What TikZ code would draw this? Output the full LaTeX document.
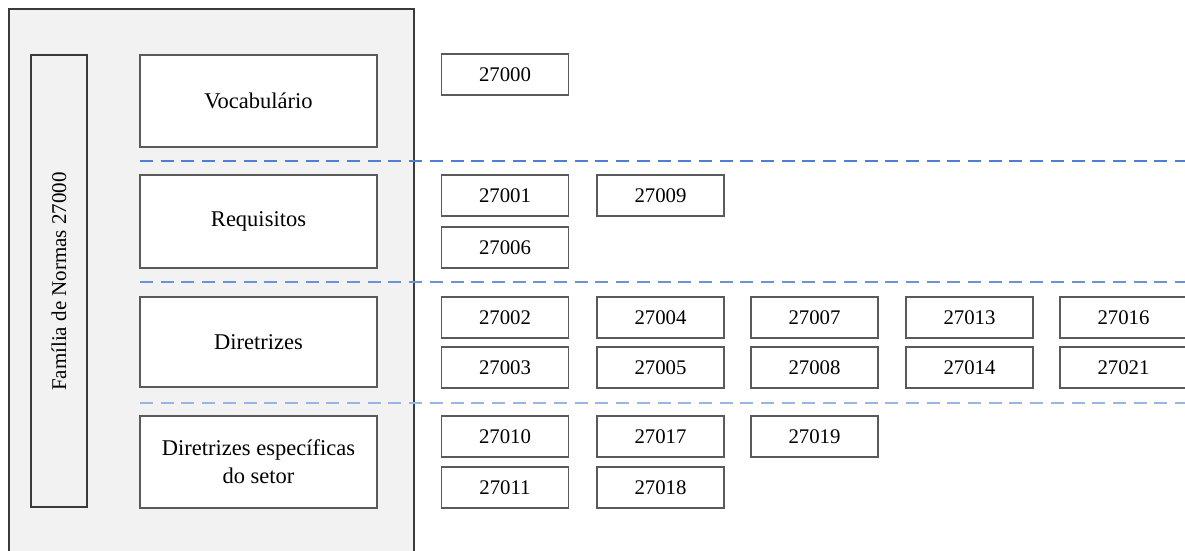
\documentclass[tikz,border=0pt]{standalone}
\usepackage{fontspec}
\setmainfont{Liberation Serif}
\definecolor{panelfill}{HTML}{F2F2F2}
\definecolor{panelline}{HTML}{3A3A3A}
\definecolor{boxline}{HTML}{5A5A5A}
\definecolor{dashA}{HTML}{4F7FD4}
\definecolor{dashB}{HTML}{6B93DA}
\definecolor{dashC}{HTML}{9AB5E3}
\tikzset{
  catbox/.style={draw=boxline, line width=1.3pt, fill=white, minimum width=237pt, inner sep=0pt, align=center, font=\fontsize{22.5}{28}\selectfont},
  normbox/.style={draw=boxline, line width=1.3pt, fill=white, minimum width=127pt, minimum height=41pt, inner sep=0pt, font=\fontsize{20.8}{24}\selectfont},
  sepline/.style={line width=2pt, dash pattern=on 13pt off 7.7pt}
}
\begin{document}
\begin{tikzpicture}[x=1pt,y=-1pt]
\useasboundingbox (0,0) rectangle (1185,551);
% outer panel
\draw[panelline, line width=1.3pt, fill=panelfill] (9,9) rectangle (414,552);
% vertical label box
\node[draw=panelline, line width=1.3pt, fill=panelfill, minimum width=56pt, minimum height=452pt, inner sep=0pt] (familia) at (59,281) {};
\node[rotate=90, font=\fontsize{21}{24}\selectfont] (familiatext) at (59,281.5) {Família de Normas 27000};
% category boxes
\node[catbox, minimum height=92pt] (voc) at (258.5,101) {Vocabulário};
\node[catbox, minimum height=93pt] (req) at (258.5,221.5) {Requisitos};
\node[catbox, minimum height=90pt] (dir) at (258.5,342) {Diretrizes};
\node[catbox, minimum height=92pt] (esp) at (258.5,462) {Diretrizes específicas\\do setor};
% separators
\coordinate (s1a) at (140,161); \coordinate (s1b) at (1190,161);
\coordinate (s2a) at (140,282); \coordinate (s2b) at (1190,282);
\coordinate (s3a) at (140,403); \coordinate (s3b) at (1190,403);
\draw[sepline, dashA] (s1a) -- (s1b);
\draw[sepline, dashB] (s2a) -- (s2b);
\draw[sepline, dashC] (s3a) -- (s3b);
% standards
\node[normbox] (n27000) at (505,74.5) {27000};
\node[normbox] (n27001) at (505,195.5) {27001};
\node[normbox] (n27009) at (660.5,195.5) {27009};
\node[normbox] (n27006) at (505,247.5) {27006};
\node[normbox] (n27002) at (505,317.5) {27002};
\node[normbox] (n27004) at (660.5,317.5) {27004};
\node[normbox] (n27007) at (814.5,317.5) {27007};
\node[normbox] (n27013) at (969.5,317.5) {27013};
\node[normbox] (n27016) at (1123.5,317.5) {27016};
\node[normbox] (n27003) at (505,367.5) {27003};
\node[normbox] (n27005) at (660.5,367.5) {27005};
\node[normbox] (n27008) at (814.5,367.5) {27008};
\node[normbox] (n27014) at (969.5,367.5) {27014};
\node[normbox] (n27021) at (1123.5,367.5) {27021};
\node[normbox] (n27010) at (505,436.5) {27010};
\node[normbox] (n27017) at (660.5,436.5) {27017};
\node[normbox] (n27019) at (814.5,436.5) {27019};
\node[normbox] (n27011) at (505,487.5) {27011};
\node[normbox] (n27018) at (660.5,487.5) {27018};
\end{tikzpicture}
\end{document}
